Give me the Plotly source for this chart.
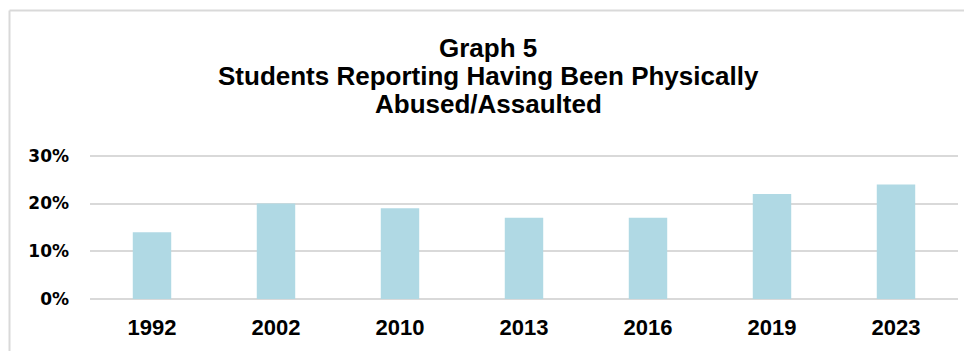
import plotly.graph_objects as go

years = ["1992", "2002", "2010", "2013", "2016", "2019", "2023"]
pct_abused = [0.14, 0.20, 0.19, 0.17, 0.17, 0.22, 0.24]
y_ticks = [0.0, 0.1, 0.2, 0.3]
y_tick_labels = ["0%", "10%", "20%", "30%"]
title_lines = ["Graph 5", "Students Reporting Having Been Physically", "Abused/Assaulted"]

# page body has an 8px default margin; compensate so the picture lines up
OFF = 8
Y_MAX = 0.31
W, H = 972 - OFF, 351 - OFF
px_per_unit = (299 - 156) / 0.30
L = 90 - OFF
R = W - (958 - OFF)
B = H - (299 - OFF)
T = round((299 - OFF) - px_per_unit * Y_MAX)
pw, ph = W - L - R, H - T - B

def px(x):
    return (x - OFF - L) / pw

def py(y):
    return (H - B - (y - OFF)) / ph

fig = go.Figure(go.Bar(
    x=years, y=pct_abused, width=0.31,
    marker=dict(color="#b0d9e4", line=dict(width=0)),
))

annotations = []
baselines = [59, 87, 115]
for line, bl in zip(title_lines, baselines):
    annotations.append(dict(
        text="<b>%s</b>" % line, xref="paper", yref="paper",
        x=px(488), y=py(bl + 6), xanchor="center", yanchor="bottom",
        showarrow=False,
        font=dict(family="Liberation Sans, Arial", size=26, color="#000000"),
    ))

shapes = [
    dict(type="line", xref="paper", yref="paper", x0=px(9.5), x1=px(990),
         y0=py(10.5), y1=py(10.5), line=dict(color="#d9d9d9", width=2)),
    dict(type="line", xref="paper", yref="paper", x0=px(9.5), x1=px(9.5),
         y0=py(10.5), y1=py(370), line=dict(color="#d9d9d9", width=2)),
]

fig.update_layout(
    width=W, height=H,
    margin=dict(l=L, r=R, t=T, b=B),
    paper_bgcolor="white", plot_bgcolor="white",
    showlegend=False,
    annotations=annotations,
    shapes=shapes,
    xaxis=dict(
        type="category", showgrid=False, showline=False, zeroline=False,
        ticks="", ticklabelstandoff=13,
        tickfont=dict(family="Liberation Sans, Arial", size=22, color="#000000"),
        tickprefix="<b>", ticksuffix="</b>",
    ),
    yaxis=dict(
        range=[0, Y_MAX], tickvals=y_ticks, ticktext=["<b>%s</b>" % t for t in y_tick_labels],
        showgrid=True, gridcolor="#d9d9d9", gridwidth=1.5,
        zeroline=True, zerolinecolor="#d9d9d9", zerolinewidth=2,
        showline=False, ticks="", ticklabelstandoff=20,
        tickfont=dict(family="DejaVu Sans", size=17, color="#000000"),
    ),
)

fig.write_html("out.html")
